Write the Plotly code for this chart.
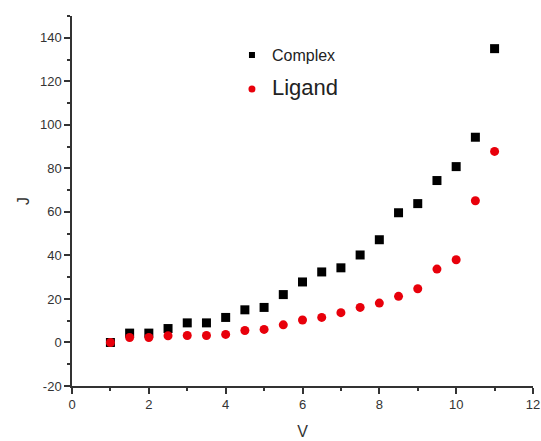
import plotly.graph_objects as go

# Bias voltage (V) and current density (J)
voltage = [1, 1.5, 2, 2.5, 3, 3.5, 4, 4.5, 5, 5.5, 6, 6.5, 7, 7.5, 8, 8.5, 9, 9.5, 10, 10.5, 11]
j_complex = [0, 4.3, 4.3, 6.4, 9, 9, 11.5, 15, 16.1, 22, 27.8, 32.4, 34.3, 40.2, 47.2, 59.6, 63.8, 74.4, 80.8, 94.3, 135]
j_ligand = [0, 2.3, 2.3, 3.1, 3.2, 3.2, 3.7, 5.5, 6, 8.1, 10.3, 11.5, 13.7, 16.1, 18.1, 21.2, 24.7, 33.7, 38, 65.1, 87.8]

y_ticks = [-20, 0, 20, 40, 60, 80, 100, 120, 140]
y_labels = [str(v) for v in y_ticks]

axis_color = "#333333"
red = "#e8000b"
font_family = "Liberation Sans, Arial, sans-serif"

fig = go.Figure()
fig.add_trace(go.Scatter(
    x=voltage, y=j_complex, mode="markers", name="Complex", showlegend=False,
    marker=dict(symbol="square", size=9, color="black"),
))
fig.add_trace(go.Scatter(
    x=voltage, y=j_ligand, mode="markers", name="Ligand", showlegend=False,
    marker=dict(symbol="circle", size=9, color=red),
))

# legend entries with small key symbols
fig.add_trace(go.Scatter(
    x=[None], y=[None], mode="markers", name="Complex", legendgroup="a",
    marker=dict(symbol="square", size=6, color="black"),
))
fig.add_trace(go.Scatter(
    x=[None], y=[None], mode="markers", legendgroup="b",
    name="<span style='font-size:22px'>Ligand</span>",
    marker=dict(symbol="circle", size=7, color=red),
))

axis_common = dict(
    showgrid=False, zeroline=False, showline=True, linecolor=axis_color, linewidth=1.5,
    ticks="outside", ticklen=6, tickwidth=1.5, tickcolor=axis_color,
    tickfont=dict(size=13, color=axis_color, family=font_family),
    minor=dict(ticks="outside", ticklen=3, tickwidth=1.5, tickcolor=axis_color),
    automargin=False,
)

fig.update_xaxes(range=[0, 12], dtick=2, title=dict(text="V", font=dict(size=16, color=axis_color), standoff=14),
                 minor_dtick=1, **axis_common)
fig.update_yaxes(range=[-20, 150], tickvals=y_ticks, ticktext=y_labels,
                 title=dict(text="J", font=dict(size=16, color=axis_color), standoff=6),
                 minor_dtick=10, **axis_common)

fig.update_layout(
    width=541, height=441,
    margin=dict(l=72, r=8, t=16, b=55),
    plot_bgcolor="white", paper_bgcolor="white",
    font=dict(family=font_family, color=axis_color),
    legend=dict(x=0.347, y=0.94, xanchor="left", yanchor="top",
                font=dict(size=16, color="#222222"), bgcolor="rgba(0,0,0,0)",
                itemsizing="trace", tracegroupgap=10),
    showlegend=True,
)

fig.write_html("out.html")
